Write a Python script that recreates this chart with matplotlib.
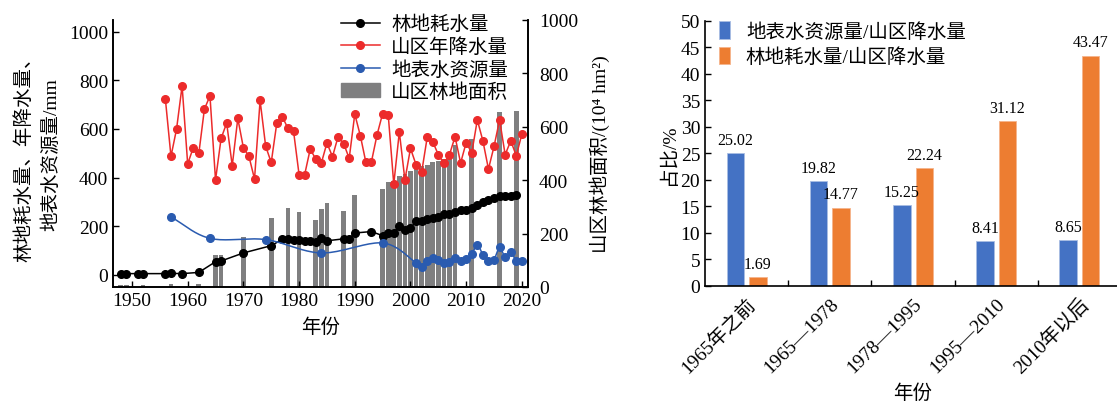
import numpy as np
import matplotlib
matplotlib.use('Agg')
import matplotlib.pyplot as plt
from matplotlib.patches import Patch
from matplotlib.lines import Line2D

plt.rcParams['font.family'] = ['Liberation Serif', 'Noto Sans CJK SC']
plt.rcParams['axes.unicode_minus'] = False

# ----------------------------- dados -----------------------------
anos_consumo = [1948, 1949, 1951, 1952, 1956, 1957, 1959, 1962, 1965, 1966, 1970, 1975,
                1977, 1978, 1979, 1980, 1981, 1982, 1983, 1984, 1985, 1988, 1989, 1990,
                1993, 1995, 1996, 1997, 1998, 1999, 2000, 2001, 2002, 2003, 2004, 2005,
                2006, 2007, 2008, 2009, 2010, 2011, 2012, 2013, 2014, 2015, 2016, 2017,
                2018, 2019]
consumo = [5, 5, 5, 5, 5, 6, 5, 10, 54, 57, 90, 120,
           146, 146, 144, 142, 140, 138, 134, 150, 140, 148, 148, 172,
           178, 161, 171, 171, 201, 185, 192, 220, 222, 230, 235, 237,
           249, 251, 260, 267, 268, 275, 287, 298, 308, 317, 326, 326,
           326, 328]

anos_chuva = list(range(1956, 2021))
chuva = [722, 487, 599, 777, 456, 523, 499, 681, 736, 390, 561, 624, 449, 643, 523,
         487, 394, 717, 529, 462, 624, 650, 602, 592, 412, 412, 517, 476, 460, 542,
         486, 568, 540, 479, 661, 572, 462, 466, 576, 663, 659, 373, 588, 390, 520,
         453, 421, 565, 547, 494, 458, 494, 568, 460, 544, 501, 637, 551, 435, 528,
         637, 494, 551, 490, 579]

anos_superficie = [1957, 1964, 1974, 1984, 1995, 2001, 2002, 2003, 2004, 2005, 2006,
                   2007, 2008, 2009, 2010, 2011, 2012, 2013, 2014, 2015, 2016, 2017,
                   2018, 2019, 2020]
superficie = [238, 150, 145, 90, 131, 49, 34, 56, 70, 63, 48, 52, 68, 55, 66, 85, 124,
              82, 55, 63, 113, 72, 93, 57, 55]

anos_area = [1948, 1949, 1952, 1957, 1962, 1965, 1966, 1970, 1975, 1978, 1980, 1983,
             1984, 1985, 1988, 1990, 1995, 1996, 1997, 1998, 1999, 2000, 2001, 2002,
             2003, 2004, 2005, 2006, 2007, 2008, 2011, 2016, 2019]
area = [6, 6, 6, 11, 11, 120, 120, 188, 260, 297, 282, 252,
        292, 315, 286, 346, 367, 392, 398, 417, 423, 436, 442, 454,
        457, 469, 473, 479, 492, 530, 553, 656, 661]

periodos = ['1965年之前', '1965—1978', '1978—1995', '1995—2010', '2010年以后']
razao_superficie = [25.02, 19.82, 15.25, 8.41, 8.65]
razao_consumo = [1.69, 14.77, 22.24, 31.12, 43.47]

cor_preto = '#000000'
cor_vermelho = '#ec2b2b'
cor_azul = '#2a5bb0'
cor_cinza = '#7f7f80'
cor_barra_azul = '#4472c4'
cor_barra_laranja = '#ed7d31'


def suavizar(x, y, n=20):
    # curva Catmull-Rom so para desenhar a linha suave (estilo Excel)
    x = np.asarray(x, float)
    y = np.asarray(y, float)
    px = np.concatenate([[2 * x[0] - x[1]], x, [2 * x[-1] - x[-2]]])
    py = np.concatenate([[2 * y[0] - y[1]], y, [2 * y[-1] - y[-2]]])
    xs, ys = [], []
    t = np.linspace(0, 1, n, endpoint=False)
    for i in range(1, len(px) - 2):
        for p, out in ((px, xs), (py, ys)):
            p0, p1, p2, p3 = p[i - 1], p[i], p[i + 1], p[i + 2]
            out.extend(0.5 * (2 * p1 + (-p0 + p2) * t + (2 * p0 - 5 * p1 + 4 * p2 - p3) * t ** 2
                              + (-p0 + 3 * p1 - 3 * p2 + p3) * t ** 3))
    xs.append(x[-1])
    ys.append(y[-1])
    return xs, ys


fig = plt.figure(figsize=(11.17, 4.02), dpi=100)

# ----------------------------------- grafico esquerdo -----------------------------------
ax = fig.add_axes([0.1012, 0.2836, 0.3715, 0.6642])
ax2 = ax.twinx()
ax2.bar(anos_area, area, width=0.85, color=cor_cinza, zorder=1)
ax2.set_ylim(0, 1000)
ax2.set_yticks(range(0, 1001, 200))
ax2.set_ylabel('山区林地面积/(10⁴ hm²)', fontsize=14, labelpad=8)

ax.set_zorder(ax2.get_zorder() + 1)
ax.patch.set_visible(False)

ax.plot(anos_consumo, consumo, '-o', color=cor_preto, lw=1.1, ms=5.5)
ax.plot(anos_chuva, chuva, '-o', color=cor_vermelho, lw=1.1, ms=5.5)
sx, sy = suavizar(anos_superficie, superficie)
ax.plot(sx, sy, '-', color=cor_azul, lw=1.1)
ax.plot(anos_superficie, superficie, 'o', color=cor_azul, ms=5.5)

ax.set_xlim(1946.6, 2021.1)
ax.set_ylim(-50, 1048)
ax.set_xticks(range(1950, 2021, 10))
ax.set_yticks(range(0, 1001, 200))
ax.set_xlabel('年份', fontsize=14, labelpad=6)
ax.set_ylabel('林地耗水量、年降水量、\n地表水资源量/mm', fontsize=14, linespacing=1.6, labelpad=6)
ax.spines['top'].set_visible(False)
ax2.spines['top'].set_visible(False)
for a in (ax, ax2):
    a.tick_params(direction='in', labelsize=14, length=4, width=1)
    for s in a.spines.values():
        s.set_linewidth(1.2)
ax2.tick_params(axis='y', pad=8)

handles = [Line2D([], [], color=cor_preto, marker='o', ms=5.5, lw=1.1),
           Line2D([], [], color=cor_vermelho, marker='o', ms=5.5, lw=1.1),
           Line2D([], [], color=cor_azul, marker='o', ms=5.5, lw=1.1),
           Patch(color=cor_cinza)]
rotulos = ['林地耗水量', '山区年降水量', '地表水资源量', '山区林地面积']
ax.legend(handles, rotulos, loc='upper right', bbox_to_anchor=(0.985, 1.07), frameon=False,
          fontsize=14, handlelength=2.0, handletextpad=0.6, labelspacing=0.2, borderpad=0.2)

# ----------------------------------- grafico direito -----------------------------------
bx = fig.add_axes([0.6312, 0.2861, 0.3724, 0.6592])
pos = np.arange(len(periodos))
b1 = bx.bar(pos - 0.135, razao_superficie, width=0.21, color=cor_barra_azul,
            edgecolor='#a9bde3', lw=0.6, label='地表水资源量/山区降水量')
b2 = bx.bar(pos + 0.135, razao_consumo, width=0.21, color=cor_barra_laranja,
            edgecolor='#f5b48c', lw=0.6, label='林地耗水量/山区降水量')
for barras, vals in ((b1, razao_superficie), (b2, razao_consumo)):
    for r, v in zip(barras, vals):
        bx.text(r.get_x() + r.get_width() / 2, v + 1.0, f'{v:.2f}', ha='center', va='bottom',
                fontsize=11.5)

bx.set_xlim(-0.5, 4.5)
bx.set_ylim(0, 50)
bx.set_yticks(range(0, 51, 5))
bx.set_xticks(pos)
bx.set_xticklabels(periodos, rotation=45, ha='right', rotation_mode='anchor', fontsize=14)
bx.set_xticks(pos[1:] - 0.5, minor=True)
bx.tick_params(axis='x', which='major', length=0, pad=6)
bx.tick_params(axis='x', which='minor', direction='in', length=4, width=1)
bx.tick_params(axis='y', direction='in', labelsize=14, length=4, width=1)
bx.set_ylabel('占比/%', fontsize=14, labelpad=2)
bx.set_xlabel('年份', fontsize=14, labelpad=5)
bx.spines['top'].set_visible(False)
bx.spines['right'].set_visible(False)
for s in bx.spines.values():
    s.set_linewidth(1.2)
bx.legend(loc='upper left', bbox_to_anchor=(0.0, 1.05), frameon=False, fontsize=14,
          handlelength=0.6, handleheight=1.0, handletextpad=0.8, labelspacing=0.3,
          borderpad=0.2)

fig.savefig('out.png', dpi=100)
